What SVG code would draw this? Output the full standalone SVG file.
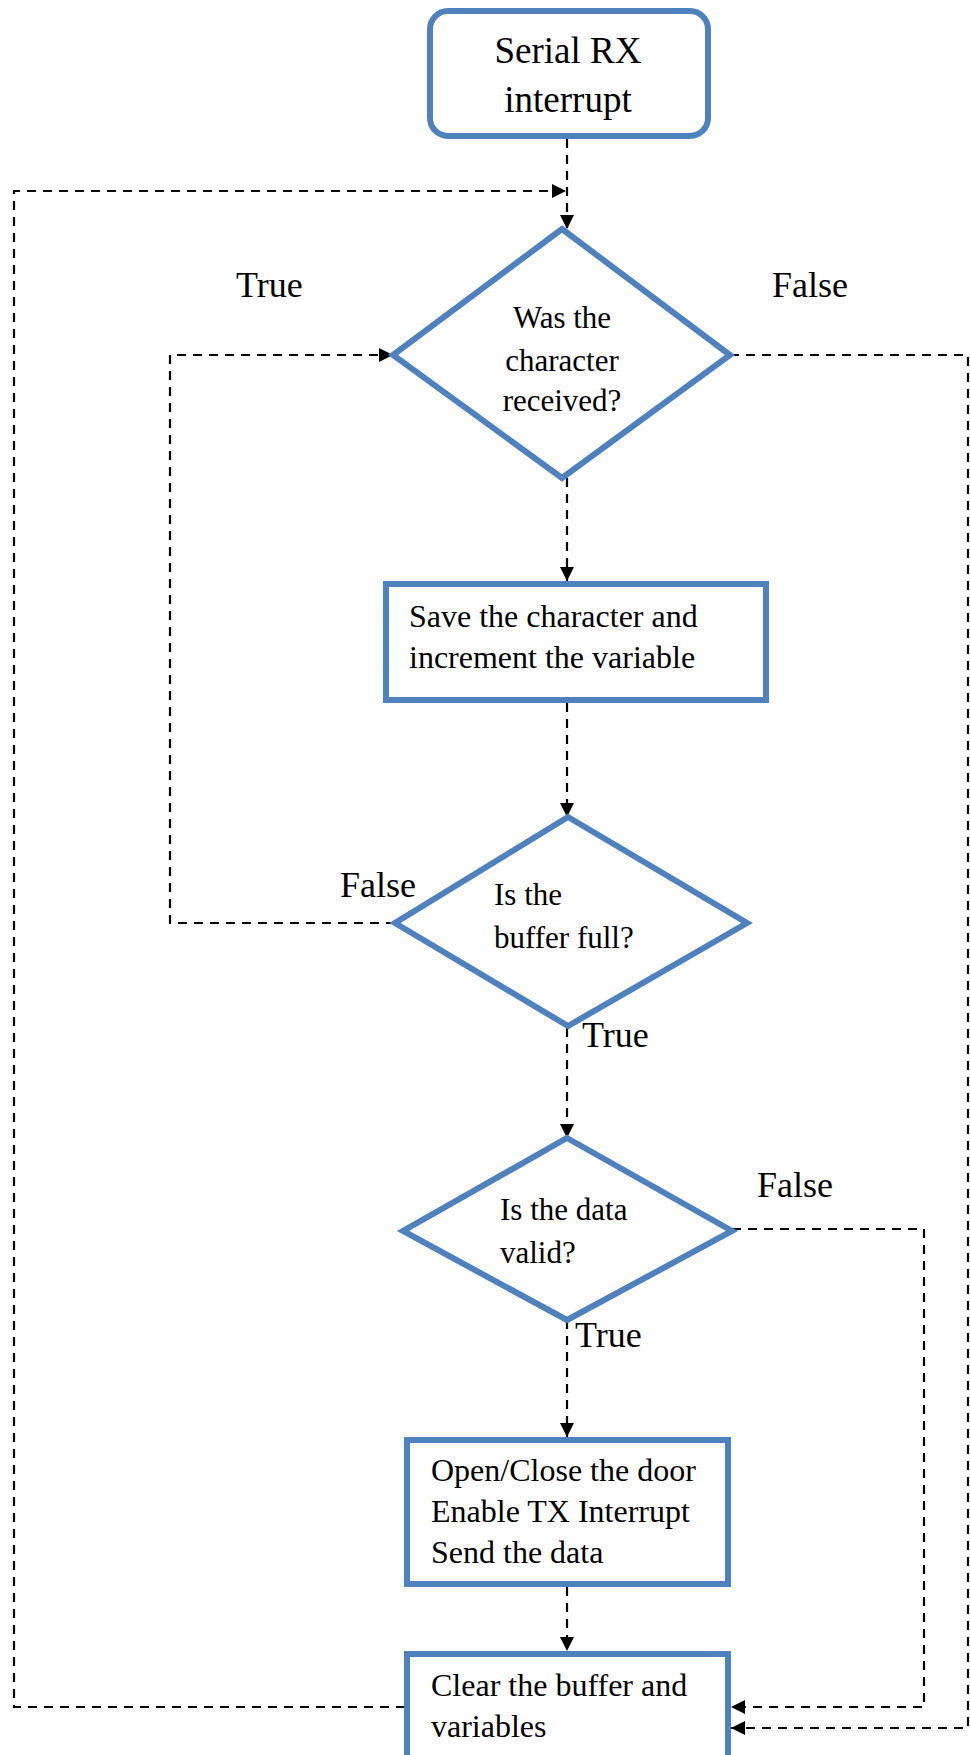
<svg xmlns="http://www.w3.org/2000/svg" width="970" height="1755" viewBox="0 0 970 1755">
<style>
.n{fill:#fff;stroke:#4F81BD;stroke-width:6}
.t{font-family:"Liberation Serif","Times New Roman",serif;fill:#000}
.c{fill:none;stroke:#000;stroke-width:2.2;stroke-dasharray:9 7}
</style>
<defs>
<marker id="ah" viewBox="0 0 14 14" refX="14" refY="7" markerWidth="14" markerHeight="14" orient="auto" markerUnits="userSpaceOnUse">
<path d="M0,0 L14,7 L0,14 z" fill="#000"/>
</marker>
</defs>
<rect width="970" height="1755" fill="#fff"/>
<g id="connectors">
<path class="c" d="M567,139 V229" marker-end="url(#ah)"/>
<path class="c" d="M405,1707 H14 V191 H566" marker-end="url(#ah)"/>
<path class="c" d="M567,478 V581" marker-end="url(#ah)"/>
<path class="c" d="M730,355 H968 V1728 H731" marker-end="url(#ah)"/>
<path class="c" d="M567,703 V817" marker-end="url(#ah)"/>
<path class="c" d="M395,923 H170 V355 H393" marker-end="url(#ah)"/>
<path class="c" d="M567,1028 V1138" marker-end="url(#ah)"/>
<path class="c" d="M732,1229 H924 V1707 H731" marker-end="url(#ah)"/>
<path class="c" d="M567,1320 V1437" marker-end="url(#ah)"/>
<path class="c" d="M567,1587 V1651" marker-end="url(#ah)"/>
</g>
<g id="labels" class="t" font-size="36">
<text x="236" y="297">True</text>
<text x="772" y="297">False</text>
<text x="340" y="897">False</text>
<text x="582" y="1047">True</text>
<text x="757" y="1197">False</text>
<text x="575" y="1347">True</text>
</g>
<g id="start">
<rect class="n" x="430" y="11" width="278" height="125" rx="18"/>
<text class="t" font-size="37" x="568" y="63" text-anchor="middle">Serial RX</text>
<text class="t" font-size="37" x="568" y="112" text-anchor="middle">interrupt</text>
</g>
<g id="d1">
<polygon class="n" points="562,229 730,355 562,478 393,355"/>
<text class="t" font-size="31" x="562" y="328" text-anchor="middle">Was the</text>
<text class="t" font-size="31" x="562" y="371" text-anchor="middle">character</text>
<text class="t" font-size="31" x="562" y="411" text-anchor="middle">received?</text>
</g>
<g id="save">
<rect class="n" x="386" y="584" width="380" height="116"/>
<text class="t" font-size="32" x="409" y="627">Save the character and</text>
<text class="t" font-size="32" x="409" y="668">increment the variable</text>
</g>
<g id="d2">
<polygon class="n" points="568,817 747,923 568,1026 395,923"/>
<text class="t" font-size="31" x="494" y="905">Is the</text>
<text class="t" font-size="31" x="494" y="948">buffer full?</text>
</g>
<g id="d3">
<polygon class="n" points="567,1138 732,1231 567,1320 403,1231"/>
<text class="t" font-size="31" x="500" y="1220">Is the data</text>
<text class="t" font-size="31" x="500" y="1263">valid?</text>
</g>
<g id="action">
<rect class="n" x="407" y="1440" width="321" height="144"/>
<text class="t" font-size="32" x="431" y="1481">Open/Close the door</text>
<text class="t" font-size="32" x="431" y="1522">Enable TX Interrupt</text>
<text class="t" font-size="32" x="431" y="1563">Send the data</text>
</g>
<g id="clear">
<rect class="n" x="407" y="1654" width="321" height="112"/>
<text class="t" font-size="32" x="431" y="1696">Clear the buffer and</text>
<text class="t" font-size="32" x="431" y="1737">variables</text>
</g>
</svg>
